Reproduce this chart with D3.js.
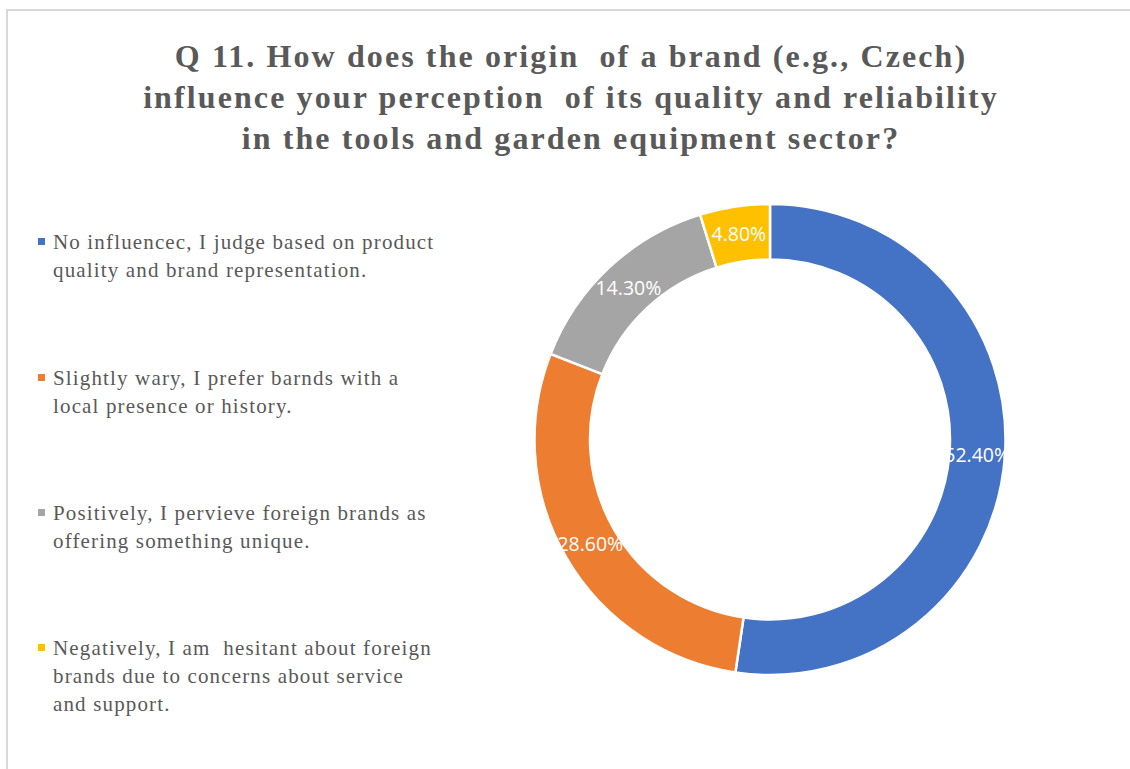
<!DOCTYPE html>
<html>
<head>
<meta charset="utf-8">
<script src="https://cdn.jsdelivr.net/npm/d3@7"></script>
<style>
  html, body { margin: 0; padding: 0; background: #fff; }
  svg { display: block; }
</style>
</head>
<body>
<svg id="chart" width="1130" height="769"></svg>
<script>
const titleLines = [
  "Q 11. How does the origin\u00a0 of a brand (e.g., Czech)",
  "influence your perception\u00a0 of its quality and reliability",
  "in the tools and garden equipment sector?"
];
const categories = [
  "No influencec, I judge based on product quality and brand representation.",
  "Slightly wary, I prefer barnds with a local presence or history.",
  "Positively, I pervieve foreign brands as offering something unique.",
  "Negatively, I am\u00a0 hesitant about foreign brands due to concerns about service and support."
];
const legendLines = [
  ["No influencec, I judge based on product", "quality and brand representation."],
  ["Slightly wary, I prefer barnds with a", "local presence or history."],
  ["Positively, I pervieve foreign brands as", "offering something unique."],
  ["Negatively, I am\u00a0 hesitant about foreign", "brands due to concerns about service", "and support."]
];
const values = [52.4, 28.6, 14.3, 4.8];
const valueLabels = ["52.40%", "28.60%", "14.30%", "4.80%"];
const colors = ["#4472C4", "#ED7D31", "#A5A5A5", "#FFC000"];

const svg = d3.select("#chart");

// frame
svg.append("path")
  .attr("d", "M7,769 L7,10 L1130,10")
  .attr("fill", "none")
  .attr("stroke", "#D9D9D9")
  .attr("stroke-width", 2);

// title
const title = svg.append("text")
  .attr("text-anchor", "middle")
  .attr("font-family", "'Liberation Serif', 'Times New Roman', serif")
  .attr("font-weight", "bold")
  .attr("font-size", 32)
  .attr("letter-spacing", 2.1)
  .attr("fill", "#595959");
titleLines.forEach((t, i) => {
  title.append("tspan").attr("x", 571).attr("y", 67 + i * 41).text(t);
});

// donut
const cx = 770, cy = 439.5, R = 235.5, r = 180;
const pie = d3.pie().sort(null).value(d => d);
const arcs = pie(values);
const arc = d3.arc().innerRadius(r).outerRadius(R);
const labelArc = d3.arc().innerRadius((R + r) / 2).outerRadius((R + r) / 2);
const color = d3.scaleOrdinal().domain(d3.range(values.length)).range(colors);

const g = svg.append("g").attr("transform", `translate(${cx},${cy})`);
g.selectAll("path.slice")
  .data(arcs)
  .join("path")
  .attr("class", "slice")
  .attr("d", arc)
  .attr("fill", (d, i) => color(i))
  .attr("stroke", "#fff")
  .attr("stroke-width", 2.5)
  .attr("stroke-linejoin", "miter");

g.selectAll("text.lbl")
  .data(arcs)
  .join("text")
  .attr("class", "lbl")
  .attr("transform", d => `translate(${labelArc.centroid(d)})`)
  .attr("text-anchor", "middle")
  .attr("dy", "0.36em")
  .attr("font-family", "'Open Sans', 'Noto Sans', sans-serif")
  .attr("font-size", 19.5)
  .attr("fill", "#fff")
  .text((d, i) => valueLabels[i]);

// legend
const legend = svg.append("g");
const itemY = [249, 385, 520, 655];
legendLines.forEach((lines, i) => {
  const gi = legend.append("g");
  gi.append("rect")
    .attr("x", 38).attr("y", itemY[i] - 11)
    .attr("width", 7).attr("height", 7)
    .attr("fill", color(i));
  const t = gi.append("text")
    .attr("font-family", "'Liberation Serif', 'Times New Roman', serif")
    .attr("font-size", 21)
    .attr("letter-spacing", 1.15)
    .attr("fill", "#595959");
  lines.forEach((ln, j) => {
    t.append("tspan").attr("x", 53).attr("y", itemY[i] + j * 27.8).text(ln);
  });
});
</script>
</body>
</html>
